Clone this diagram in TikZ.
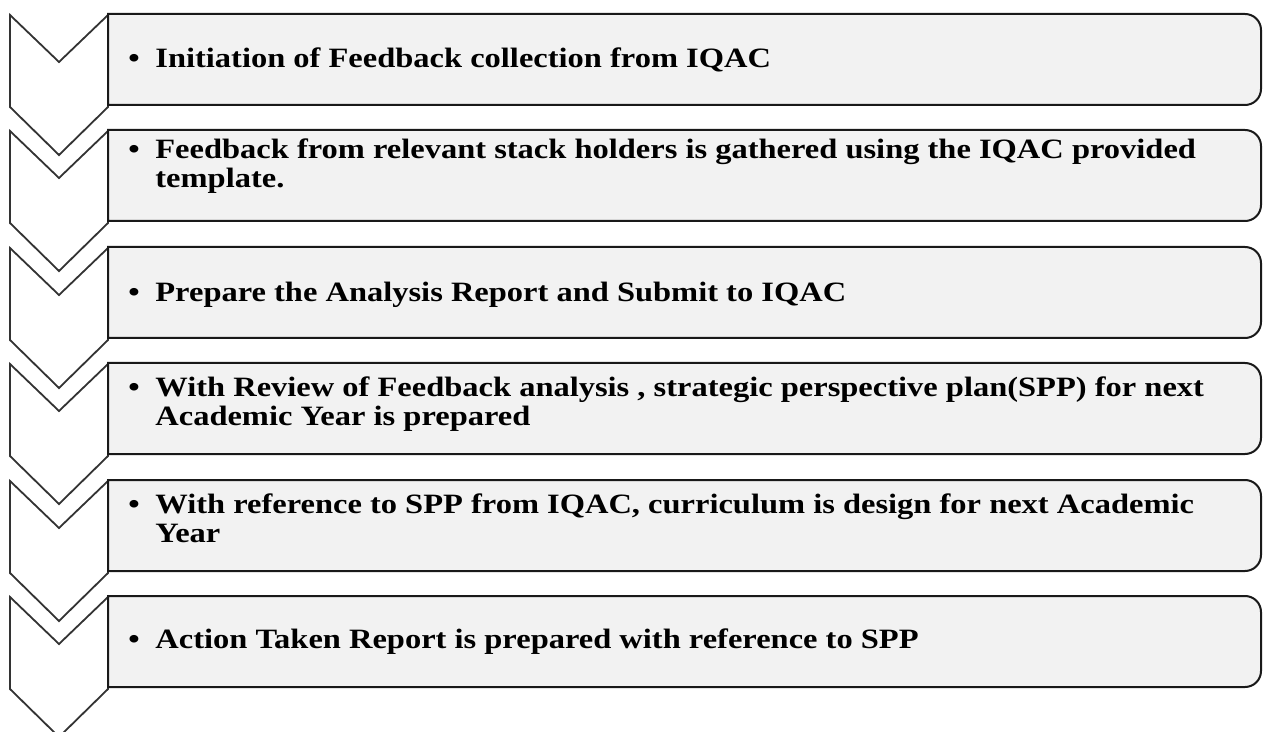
\documentclass[tikz,border=0pt]{standalone}
\usepackage{fontspec}
\setmainfont{Liberation Serif}[FakeStretch=1.16]
\begin{document}
\begin{tikzpicture}[x=0.5pt, y=-0.5pt,
    chevron/.style={draw=black!80, fill=white, line width=0.9pt, line join=miter},
    stepbox/.style={draw=black!90, fill=black!5, line width=1pt},
    steptext/.style={anchor=west, inner sep=0pt, font=\fontsize{14}{14.5}\selectfont\bfseries}]
  \useasboundingbox (0,0) rectangle (1263,732);
  % chevrons down the left side
  \draw[chevron] (10,15) -- (59,62) -- (108,15) -- (108,107) -- (59,155) -- (10,107) -- cycle;
  \draw[chevron] (10,131) -- (59,178) -- (108,131) -- (108,223) -- (59,271) -- (10,223) -- cycle;
  \draw[chevron] (10,248) -- (59,295) -- (108,248) -- (108,340) -- (59,388) -- (10,340) -- cycle;
  \draw[chevron] (10,364) -- (59,411) -- (108,364) -- (108,456) -- (59,504) -- (10,456) -- cycle;
  \draw[chevron] (10,481) -- (59,528) -- (108,481) -- (108,573) -- (59,621) -- (10,573) -- cycle;
  \draw[chevron] (10,597) -- (59,644) -- (108,597) -- (108,689) -- (59,737) -- (10,689) -- cycle;
  % boxes
  \draw[stepbox] (108,105) -- (108,14) [rounded corners=8pt] -- (1261,14) -- (1261,105) [sharp corners] -- cycle;
  \draw[stepbox] (108,221) -- (108,130) [rounded corners=8pt] -- (1261,130) -- (1261,221) [sharp corners] -- cycle;
  \draw[stepbox] (108,338) -- (108,247) [rounded corners=8pt] -- (1261,247) -- (1261,338) [sharp corners] -- cycle;
  \draw[stepbox] (108,454) -- (108,363) [rounded corners=8pt] -- (1261,363) -- (1261,454) [sharp corners] -- cycle;
  \draw[stepbox] (108,571) -- (108,480) [rounded corners=8pt] -- (1261,480) -- (1261,571) [sharp corners] -- cycle;
  \draw[stepbox] (108,687) -- (108,596) [rounded corners=8pt] -- (1261,596) -- (1261,687) [sharp corners] -- cycle;
  % texts
  \node[steptext] (init) at (128,62) {\begin{tabular}{@{}p{13.5pt}@{}l@{}}\textbullet & Initiation of Feedback collection from IQAC\end{tabular}};
  \node[steptext] (gather) at (128,167) {\begin{tabular}{@{}p{13.5pt}@{}l@{}}\textbullet & Feedback from relevant stack holders is gathered using the IQAC provided\\ & template.\end{tabular}};
  \node[steptext] (report) at (128,296) {\begin{tabular}{@{}p{13.5pt}@{}l@{}}\textbullet & Prepare the Analysis Report and Submit to IQAC\end{tabular}};
  \node[steptext] (review) at (128,405) {\begin{tabular}{@{}p{13.5pt}@{}l@{}}\textbullet & With Review of Feedback analysis , strategic perspective plan(SPP) for next\\ & Academic Year is prepared\end{tabular}};
  \node[steptext] (design) at (128,522) {\begin{tabular}{@{}p{13.5pt}@{}l@{}}\textbullet & With reference to SPP from IQAC, curriculum is design for next Academic\\ & Year\end{tabular}};
  \node[steptext] (action) at (128,643) {\begin{tabular}{@{}p{13.5pt}@{}l@{}}\textbullet & Action Taken Report is prepared with reference to SPP\end{tabular}};
\end{tikzpicture}
\end{document}
